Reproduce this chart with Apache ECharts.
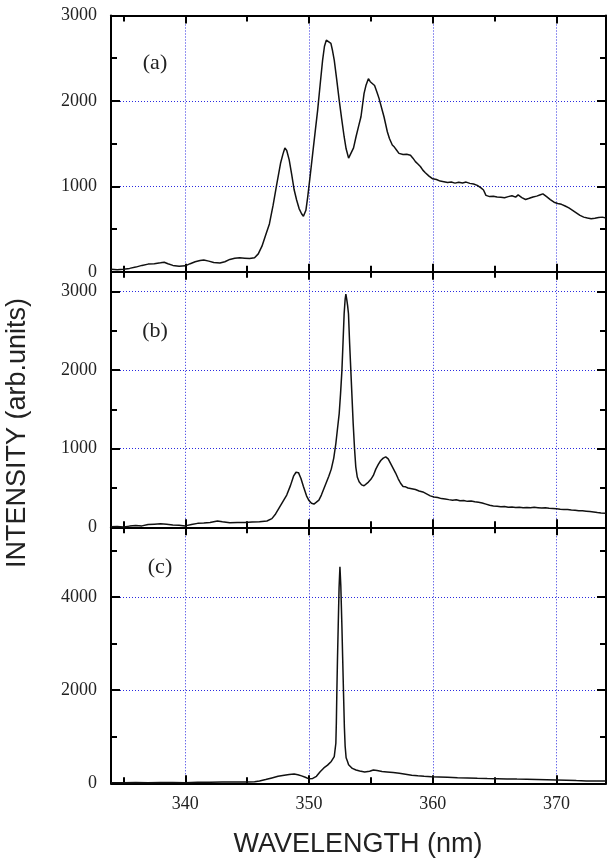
<!DOCTYPE html>
<html>
<head>
<meta charset="utf-8">
<script src="https://cdn.jsdelivr.net/npm/echarts@6/dist/echarts.min.js"></script>
<style>html,body{margin:0;padding:0;background:#fff;}#c{width:607px;height:860px;}</style>
</head>
<body>
<div id="c"></div>
<script>
// ---- data ----
const panelLabels = ['(a)', '(b)', '(c)'];
const xTitle = 'WAVELENGTH (nm)';
const yTitle = 'INTENSITY (arb.units)';
const yMaxes = [3000, 3250, 5500];
const yIntervals = [1000, 1000, 2000];

const waveA = [334.0,334.5,335.0,335.5,336.0,336.5,337.0,337.5,338.0,338.3,338.6,339.0,339.5,340.0,340.4,340.8,341.2,341.5,341.9,342.3,342.8,343.2,343.6,344.0,344.4,344.8,345.2,345.6,345.9,346.2,346.5,346.8,347.1,347.4,347.7,347.9,348.05,348.2,348.4,348.6,348.8,349.0,349.2,349.4,349.55,349.75,349.9,350.1,350.3,350.5,350.7,350.9,351.1,351.25,351.4,351.55,351.77,351.9,352.04,352.24,352.44,352.64,352.84,353.0,353.2,353.35,353.6,353.8,354.0,354.2,354.45,354.6,354.8,354.95,355.1,355.3,355.5,355.66,355.9,356.06,356.33,356.5,356.73,356.9,357.1,357.27,357.6,357.9,358.2,358.4,358.6,358.8,359.0,359.2,359.4,359.7,360.0,360.3,360.6,360.9,361.2,361.5,361.8,362.1,362.4,362.7,363.0,363.3,363.6,363.9,364.1,364.3,364.6,364.9,365.2,365.5,365.8,366.1,366.4,366.7,366.9,367.2,367.5,367.8,368.1,368.4,368.7,368.9,369.2,369.5,369.8,370.1,370.4,370.7,371.0,371.3,371.6,371.9,372.2,372.5,372.8,373.1,373.4,373.7,374.0];
const intA = [30,25,30,40,55,75,90,95,105,112,95,75,65,70,95,118,132,138,125,108,102,118,145,158,165,160,155,165,210,300,430,560,780,1030,1270,1380,1450,1420,1310,1140,960,840,740,680,650,720,879,1130,1386,1640,1893,2190,2478,2640,2712,2700,2673,2590,2478,2250,2010,1790,1581,1440,1330,1320,1450,1581,1700,1815,2088,2180,2260,2225,2245,2180,2100,2030,1900,1815,1639,1560,1484,1460,1420,1386,1372,1376,1364,1330,1290,1262,1232,1190,1160,1120,1088,1080,1062,1055,1046,1050,1038,1048,1040,1050,1035,1028,1012,982,958,895,880,884,876,872,866,880,890,874,900,868,846,860,876,886,902,912,880,845,815,800,790,770,748,720,690,660,640,630,622,628,635,640,630];

const waveB = [334.0,334.5,335.0,335.5,336.0,336.5,337.0,337.5,338.0,338.5,339.0,339.5,340.0,340.5,341.0,341.5,342.0,342.6,343.0,343.6,344.2,344.8,345.4,346.0,346.6,347.0,347.3,347.6,347.9,348.2,348.5,348.75,348.95,349.15,349.35,349.55,349.8,350.0,350.2,350.4,350.6,350.8,351.0,351.2,351.4,351.6,351.8,352.0,352.17,352.3,352.44,352.55,352.66,352.75,352.84,352.92,352.98,353.05,353.12,353.19,353.28,353.38,353.48,353.57,353.68,353.78,353.9,354.05,354.25,354.45,354.6,354.8,355.0,355.2,355.4,355.6,355.8,356.0,356.2,356.4,356.6,356.8,357.0,357.2,357.4,357.6,357.8,358.0,358.3,358.6,358.9,359.2,359.5,359.8,360.1,360.4,360.7,361.0,361.3,361.6,361.9,362.2,362.5,362.8,363.1,363.4,363.7,364.0,364.3,364.6,364.9,365.2,365.5,365.8,366.1,366.4,366.7,367.0,367.3,367.6,367.9,368.2,368.5,368.8,369.1,369.4,369.7,370.0,370.3,370.6,370.9,371.2,371.5,371.8,372.1,372.4,372.7,373.0,373.3,373.6,374.0];
const intB = [8,10,5,15,22,18,35,40,45,38,30,25,18,35,50,55,62,80,70,58,62,60,68,72,80,110,170,250,330,410,530,650,700,695,620,520,400,340,305,296,320,345,410,490,570,650,740,880,1066,1250,1447,1700,1996,2350,2716,2900,2965,2900,2820,2716,2350,1996,1640,1320,1000,769,640,579,540,528,545,575,610,660,740,800,850,880,895,870,810,750,690,620,560,520,515,500,490,480,462,450,425,400,385,378,365,360,352,345,350,338,342,330,335,325,318,310,295,280,272,268,262,265,255,258,252,256,250,253,248,255,250,245,248,242,240,236,230,228,225,220,218,212,210,205,200,195,188,182,178];

const waveC = [334.0,335.0,336.0,337.0,338.0,339.0,340.0,341.0,342.0,343.0,344.0,345.0,345.6,346.0,346.5,347.0,347.5,348.0,348.4,348.8,349.1,349.4,349.7,350.0,350.3,350.6,350.9,351.2,351.5,351.8,352.04,352.17,352.21,352.25,352.3,352.36,352.43,352.5,352.57,352.66,352.72,352.79,352.86,352.92,353.0,353.1,353.2,353.5,353.8,354.1,354.5,354.9,355.2,355.5,355.9,356.3,356.8,357.3,357.8,358.3,358.8,359.3,359.9,360.5,361.2,362.0,362.8,363.6,364.4,365.2,366.0,366.8,367.6,368.4,369.2,370.0,370.8,371.6,372.4,373.2,374.0];
const intC = [10,12,15,14,18,16,12,22,25,28,30,28,35,50,80,115,150,175,190,200,185,160,130,95,105,150,250,330,390,470,573,860,1300,1950,2650,3370,4200,4650,4250,3370,2700,1935,1200,800,550,480,400,320,285,265,245,260,285,275,255,245,230,215,195,175,160,150,140,135,128,120,115,108,103,100,95,90,88,84,78,72,65,58,52,50,48];

const waves = [waveA, waveB, waveC];
const ints = [intA, intB, intC];

// ---- layout ----
const gridTops = [15.5, 271.8, 527.3];
const gridHeights = [256.3, 255.5, 256];
const serif = '"Liberation Serif", "Times New Roman", serif';
const sans = '"Liberation Sans", Arial, sans-serif';
const dotted = { type: [1, 2], color: '#2a2ae0', width: 1 };
const plain = v => String(v);

const grid = [], xAxis = [], yAxis = [], series = [];
for (let i = 0; i < 3; i++) {
  grid.push({ left: 111, right: 1, top: gridTops[i], height: gridHeights[i], containLabel: false });
  const baseX = {
    type: 'value', gridIndex: i, min: 334, max: 374, splitNumber: 4,
    axisLine: { show: true, onZero: false, lineStyle: { color: '#000', width: 2 } },
    axisTick: { show: true, inside: true, length: 8, lineStyle: { color: '#000', width: 2 } },
    minorTick: { show: true, splitNumber: 2, length: 6, lineStyle: { color: '#000', width: 2 } },
    minorSplitLine: { show: false }
  };
  xAxis.push(Object.assign({}, baseX, {
    position: 'bottom',
    splitLine: { show: true, lineStyle: dotted },
    axisLabel: { show: i === 2, color: '#222', fontFamily: serif, fontSize: 18, margin: 12, showMinLabel: false, showMaxLabel: false, formatter: plain }
  }));
  xAxis.push(Object.assign({}, baseX, {
    position: 'top',
    splitLine: { show: false },
    axisLabel: { show: false }
  }));
  const baseY = {
    type: 'value', gridIndex: i, min: 0, max: yMaxes[i], interval: yIntervals[i],
    axisLine: { show: true, onZero: false, lineStyle: { color: '#000', width: 2 } },
    axisTick: { show: true, inside: true, length: 9, lineStyle: { color: '#000', width: 2 } },
    minorTick: { show: true, splitNumber: 2, length: 6, lineStyle: { color: '#000', width: 2 } },
    minorSplitLine: { show: false }
  };
  yAxis.push(Object.assign({}, baseY, {
    position: 'left',
    splitLine: { show: true, lineStyle: dotted },
    axisLabel: { show: true, color: '#222', fontFamily: serif, fontSize: 18, margin: 14, showMaxLabel: i === 0, formatter: plain }
  }));
  yAxis.push(Object.assign({}, baseY, {
    position: 'right',
    splitLine: { show: false },
    axisLabel: { show: false }
  }));
  series.push({
    type: 'line', xAxisIndex: 2 * i, yAxisIndex: 2 * i,
    data: waves[i].map((w, k) => [w, ints[i][k]]),
    showSymbol: false, symbol: 'none', smooth: false,
    lineStyle: { color: '#111', width: 1.5 },
    z: 3
  });
}

const labelPos = [[155, 63], [155, 331], [160, 567]];
const graphic = [
  { type: 'text', x: 18, y: 433, rotation: Math.PI / 2,
    style: { text: yTitle, font: '27px ' + sans, fill: '#222', align: 'center', verticalAlign: 'middle' } },
  { type: 'text', x: 358, y: 845,
    style: { text: xTitle, font: '27px ' + sans, fill: '#222', align: 'center', verticalAlign: 'middle' } }
];
panelLabels.forEach((t, i) => graphic.push({
  type: 'text', x: labelPos[i][0], y: labelPos[i][1],
  style: { text: t, font: '22px ' + serif, fill: '#222', align: 'center', verticalAlign: 'middle' }
}));

const chart = echarts.init(document.getElementById('c'), null, { renderer: 'canvas' });
chart.setOption({ animation: false, backgroundColor: '#fff', grid, xAxis, yAxis, series, graphic });
</script>
</body>
</html>
